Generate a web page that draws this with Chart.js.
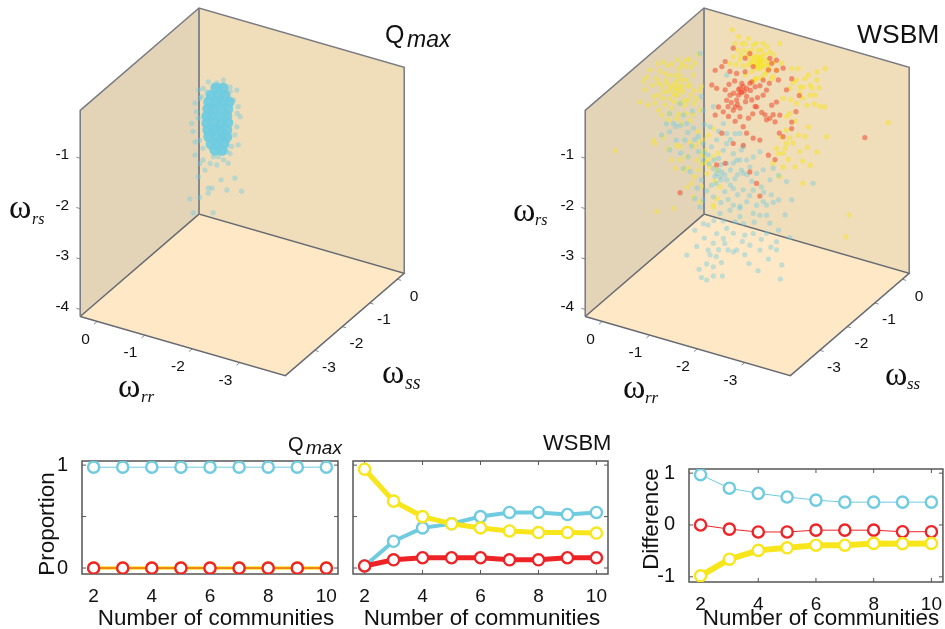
<!DOCTYPE html>
<html>
<head>
<meta charset="utf-8">
<title>Qmax and WSBM communities</title>
<script src="https://cdn.jsdelivr.net/npm/chart.js@4"></script>
<style>
  html, body { margin: 0; padding: 0; background: #fff; }
  canvas { position: absolute; }
</style>
</head>
<body>
<canvas id="cube1" style="left:0;top:0"></canvas>
<canvas id="cube2" style="left:470px;top:0"></canvas>
<canvas id="prop1" style="left:0;top:430px"></canvas>
<canvas id="prop2" style="left:345px;top:430px"></canvas>
<canvas id="diff" style="left:625px;top:430px"></canvas>
<script>
// bottom row
const communities = [2, 3, 4, 5, 6, 7, 8, 9, 10];
const qmaxBlue = [0.98, 0.98, 0.98, 0.98, 0.98, 0.98, 0.98, 0.98, 0.98];
const qmaxYellow = [0, 0, 0, 0, 0, 0, 0, 0, 0];
const qmaxRed = [0, 0, 0, 0, 0, 0, 0, 0, 0];
const wsbmBlue = [0.02, 0.26, 0.39, 0.43, 0.50, 0.54, 0.54, 0.52, 0.54];
const wsbmYellow = [0.96, 0.65, 0.50, 0.43, 0.39, 0.36, 0.345, 0.345, 0.34];
const wsbmRed = [0.02, 0.08, 0.10, 0.10, 0.10, 0.08, 0.08, 0.10, 0.10];
const diffBlue = [0.97, 0.71, 0.61, 0.54, 0.48, 0.44, 0.44, 0.44, 0.44];
const diffRed = [0, -0.08, -0.135, -0.135, -0.1, -0.1, -0.1, -0.13, -0.13];
const diffYellow = [-0.98, -0.66, -0.49, -0.44, -0.39, -0.39, -0.355, -0.36, -0.355];
const xTicks = [2, 4, 6, 8, 10];
const propTicks = [0, 0.5, 1];
const diffTicks = [-1, 0, 1];

// cube axes
const rrTicks = [0, -1, -2, -3];
const ssTicks = [0, -1, -2, -3];
const rsTicks = [-1, -2, -3, -4];
const rrRange = [0.36, -3.96];
const ssRange = [0.25, -4.07];
const rsRange = [-0.05, -4.14];

// clouds are [w_rr, w_rs]; depth can't be read from the picture so each cloud gets one w_ss
const qmaxSs = -0.5;
const qmaxCore = [[-.43,-1.07],[-.58,-1.03],[-.33,-1.24],[-.47,-1.2],[-.62,-1.16],[-.28,-1.39],[-.43,-1.35],[-.58,-1.31],[-.71,-1.27],[-.26,-1.53],[-.39,-1.5],[-.54,-1.46],[-.68,-1.42],[-.24,-1.68],[-.37,-1.64],[-.52,-1.6],[-.66,-1.56],[-.24,-1.82],[-.39,-1.78],[-.54,-1.74],[-.68,-1.69],[-.26,-1.95],[-.39,-1.91],[-.54,-1.88],[-.66,-1.84],[-.28,-2.08],[-.43,-2.04],[-.58,-2],[-.66,-1.98],[-.33,-2.21],[-.45,-2.17],[-.6,-2.13],[-.41,-2.31],[-.56,-2.27]];
const qmaxHalo = [[-.27,-.99],[-.59,-.87],[-.73,-.97],[-.87,-.99],[-.38,-1.03],[-.16,-1.15],[-.8,-1.21],[-.9,-1.31],[-.94,-1.5],[-.87,-1.72],[-.83,-1.89],[-.9,-2.07],[-.76,-2.14],[-.73,-2.29],[-.59,-2.45],[-.69,-2.49],[-.45,-2.59],[-.31,-2.6],[-.16,-2.57],[-.09,-2.66],[.01,-2.52],[-.2,-2.76],[-.06,-2.93],[-.54,-2.86],[-.83,-2.75],[-.27,-3.1],[-.35,-3.08],[-.66,-3.03],[-.97,-2.97],[.12,-3.42],[-.09,-3.33],[-.27,-3.2],[.01,-2.26],[.05,-2.06],[.08,-1.91],[-.06,-1.77],[-.02,-1.65],[.01,-1.49],[-.09,-1.37],[-.07,-1.21],[-.24,-1.2],[.05,-3.68],[-.37,-3.56],[-.48,-2.42],[-.38,-2.45],[-.66,-2.27],[-.16,-2.34],[-.09,-2.2],[-.88,-1.45],[-.13,-1.32],[-.45,-.96],[-.73,-1.06]];

const yellowFrontSs = -1.5;
const yellowFront = [[-.08,-.73],[-.01,-.82],[-.15,-.62],[.06,-.74],[-.22,-.73],[-.11,-.83],[-.04,-.61],[.13,-.66],[.2,-.85],[.31,-.94],[.41,-1],[-.36,-.56],[-.29,-.48],[-.43,-.34],[-.25,-.22],[-.15,-.42],[.06,-.48],[.17,-.47],[-.29,-.08],[-.18,-.18],[-.46,-.1],[-.53,.09],[.48,-.49],[.59,-.91],[.69,-1.18],[.52,-1.2],[.17,-1.1],[.31,-1.24],[.03,-1.12],[-.15,-.98],[-.32,-.87],[-.5,-.79],[-.25,-.99],[-.08,-1.3],[-.18,-1.37],[-.36,-1.26],[.24,-1.32],[.38,-1.92],[.41,-1.86],[1.22,-2.29],[.1,-1.38],[-.6,-.52],[-.57,-1],[-.43,-.64],[-.06,-.69],[-.13,-.73],[.03,-.68],[-.18,-.65],[-.04,-.85],[.1,-.81],[-.09,-.53],[.24,-.75],[-.64,-1.9],[-.6,-1.85],[-.67,-1.77],[-.15,-1.84],[-.08,-1.83],[-.29,-2],[-.22,-2.28],[.03,-2.15],[-.32,-2.22],[-.53,-2.2],[-.71,-2.22],[-.78,-2.06],[-.88,-2.33],[-.5,-2.01],[-.74,-1.94],[-.85,-1.85],[-.39,-2.5],[-.99,-2.41],[-.64,-1.57],[-.85,-1.29],[-.53,-1.44],[-.92,-2.66],[-.85,-2.84],[-.43,-2.76],[.34,-3.26],[-.01,-3.1],[-3.71,-2.23],[-3.64,-2.68],[-.85,-2.81],[-.57,-2.82],
  [.35,-.62],[.28,-.45],[.44,-.78],[.22,-.98],[.08,-.95],[-.03,-.98],[-.3,-.6],[-.38,-.75],[-.24,-.9],[-.12,-.3],[.02,-.25],[.12,-.3],[-.38,-.2],[.3,-.7],[.15,-.6],[-.05,-.45],[-.2,-.5],[.38,-1.12],[.55,-.65],[.62,-.75],[-.45,-.9],[-.12,-1.2],[.08,-1.25],[-.28,-1.15],[-.42,-1.12],[.2,-.25],[.32,-.32],[-.35,-.05],[-.1,-.12],[-.55,-.62],[-.45,-1.75],[-.35,-1.7],[-.55,-1.65],[-.7,-2],[-.62,-2.05],[-.45,-2.35],[-.15,-2.1],[-.05,-2.3],[-.3,-2.6],[-.6,-2.5],[.1,-1.95],[.2,-1.75],[-.95,-1.75],[-.92,-2.1],[-.75,-1.45]];
const yellowBackSs = -0.5;
const yellowBack = [[-1.25,-.36],[-1.18,-.31],[-1.32,-.4],[-1.11,-.4],[-1.39,-.25],[-1.29,-.21],[-1.18,-.48],[-1.08,-.27],[-1.39,-.48],[-1.22,-.1],[-1.01,-.46],[-1.46,-.07],[-.9,-.19],[-1.01,.07],[-.8,.05],[-.73,-.1],[-.67,.15],[-.87,-.07],[-1.11,-.03],[-1.32,.06],[-1.67,.15],[-1.53,-.11],[-1.71,-.23],[-.83,-.4],[-.69,-.38],[-.62,-.53],[-.94,-.67],[-1.18,-.67],[-1.08,-.57],[-1.29,-.64],[-1.53,-.54],[-1.25,-.26],[-1.22,-.4],[-1.27,-.32],[-1.15,-.25],[-1.39,-.35],[-1.08,-.14],[-1.29,-.08],[-.97,-.3],[-1.46,-.4],[-1.1,-.76],[-1.15,-.7],[-2.16,-.58],[-1.92,-.28],[-2.06,-.24],[-2.27,-.31],[-2.62,-.09],[-2.45,-.2],[-2.45,-.36],[-2.31,-.5],[-2.02,-.48],[-1.88,-.68],[-2.09,-.72],[-2.31,-.7],[-2.41,-.67],[-2.52,-.87],[-2.62,-.85],[-2.24,-.92],[-2.02,-.94],[-1.81,-1.26],[-1.88,-1.18],[-1.74,-.92],[-2.27,-1.34],[-1.81,-1.79],[-1.88,-1.67],[-1.78,-1.9],[-1.64,-2.04],[-1.74,-2.01],[-2.09,-1.88],[-2.45,-1.79],[-2.66,-1.43],[-2.06,-1.56],[-3.95,-.8],[-1.74,-2.28],[-1.99,-2.21],[-2.31,-2.09],[-2.16,-2.49],[-1.67,-2.49],[-1.53,-2.26],[-1.81,-1.53],[-1.6,-1.95],
  [-1.2,-.22],[-1.3,-.3],[-1.12,-.32],[-1.05,-.38],[-1.35,-.15],[-1.42,-.32],[-1.25,-.47],[-1,-.2],[-.85,-.3],[-.78,-.22],[-.95,-.05],[-1.18,.02],[-1.4,.02],[-1.55,-.25],[-1.6,-.4],[-1.5,-.6],[-1.35,-.55],[-.75,-.52],[-.9,-.5],[-1.25,-.3],[-1.2,-.38],[-1.28,-.42],[-1.16,-.42],[-2.2,-.4],[-2.35,-.55],[-2.1,-.6],[-1.95,-.55],[-2.5,-.5],[-2.15,-.8],[-2.4,-.85],[-1.9,-.9],[-2,-1.3],[-2.2,-1.55],[-1.95,-1.75],[-1.7,-1.7],[-2.25,-1.75],[-1.85,-2.1],[-2.15,-2.05]];

const blueSs = -2;
const blueCloud = [[-.58,-1.03],[-.72,-1.08],[-.51,-.88],[-.82,-1.22],[-.22,-1.29],[-.36,-1.42],[-.54,-1.37],[-.05,-1.4],[-.61,-1.68],[-.93,-1.33],[-1.1,-1.35],[-1.21,-1.18],[-1.42,-1.2],[-1.35,-1.35],[-1.56,-1.36],[-1.73,-1.24],[-1.63,-1.47],[-1.84,-1.41],[-1.98,-1.31],[-2.12,-1.17],[-1.21,-1.85],[-1.14,-1.77],[-1.28,-1.89],[-1.42,-1.92],[-1.59,-1.85],[-1.73,-1.64],[-1.91,-1.53],[-2.05,-1.62],[-2.19,-1.51],[-2.4,-1.42],[-2.33,-1.67],[-2.51,-1.53],[-2.68,-1.61],[-3.24,-1.49],[-2.79,-1.94],[-2.51,-2.02],[-2.36,-1.96],[-2.15,-1.86],[-1.98,-1.97],[-1.77,-2.02],[-1.56,-2.05],[-1.38,-2.16],[-1.14,-2.33],[-.93,-2.45],[-.75,-2.47],[-1.56,-2.38],[-1.84,-2.24],[-2.05,-2.25],[-2.26,-2.19],[-1.42,-1.59],[-1.25,-1.54],[-1.03,-1.53],[-.93,-1.66],[-.82,-1.52],[-.51,-1.94],[-.65,-1.96],[-.89,-2.06],[-1.1,-2.11],[-.22,-1.65],[-.86,.44],[-1.42,.16],[-.93,-.67],[-1.14,-.54],[-1.35,-.82],[-1.07,-.96],[-.89,-.41],[-.44,-.67],[-.22,-.93],[-1.42,-1],[-1.7,-.92],[-1.77,-1.16],[-1.25,-1.77],[-1.17,-1.92],[-1.32,-1.79],[-1.38,-1.83],[-1.7,-1.45],[-1.56,-1.55],[-1.77,-1.69],[-.89,-4],[-1,-4.02],[-1.14,-3.9],[-1.33,-3.85],[-.84,-3.85],[-2.55,-3.58],[-2.08,-3.54],[-1.89,-3.45],[-2.58,-3.29],[-1.14,-3.72],[-1.31,-3.59],[-1.03,-3.42],[-1.07,-3.5],[-1.63,-3.25],[-1.56,-3.31],[-.58,-3.64],[-.79,-3.41],[-1.35,-3.1],[-1.38,-3.19],[-1.8,-2.91],[-1.91,-3.08],[-2.47,-2.86],[-2.75,-2.7],[-2.26,-2.75],[-1.42,-2.88],[-.93,-2.92],[-1.7,-2.57],[-2.26,-2.39],[-2.65,-2.28],[-1.7,-2.37],[-2.19,-2.14],[-1.98,-2.83],[-2.12,-3.12],[-1.56,-2.94],[-1.77,-2.69],[-1.21,-3.04],[-2.47,-3.02],[-2.33,-2.53],[-1.49,-2.5],[-1.28,-2.62],[-.86,-2.61],[-1.03,-2.92],[-1.14,-3.25],[-2.12,-2.43],[-2.51,-2.62],[-1.98,-2.43],
  [-.6,-1.2],[-.75,-1.3],[-.45,-1.1],[-.35,-1.15],[-.68,-1.45],[-.95,-1.5],[-1.05,-1.7],[-1.15,-1.6],[-1.3,-1.65],[-1.5,-1.7],[-1.65,-1.75],[-1.85,-1.7],[-1.95,-1.8],[-1.3,-1.95],[-1.5,-2],[-1.65,-2.15],[-1.2,-2.05],[-1,-2.25],[-.8,-2.25],[-1.9,-2.1],[-2.2,-1.95],[-2.4,-2.1],[-1.45,-2.3],[-1.3,-2.4],[-1.7,-2.4],[-2,-2.6],[-1.6,-2.7],[-1.35,-2.75],[-1.15,-2.8],[-2.15,-2.9],[-2.35,-3],[-1.75,-3.05],[-1.45,-3.3],[-1.25,-3.35],[-1.8,-3.3],[-.95,-3.2],[-2.3,-3.25],[-1.2,-3.5],[-1,-3.7],[-.75,-3.1],[-1.5,-1.1],[-1.6,-.95],[-1.25,-1],[-.95,-.95],[-.7,-.75],[-.3,-1.1],[-.15,-1.15],[-.45,-1.65]];

const redSs = -0.5;
const redCloud = [[-.83,-.97],[-.87,-1.03],[-.62,-1.16],[-.55,-1.28],[-.73,-1.36],[-.76,-1.22],[-.97,-1.09],[-.9,-.91],[-1.08,-.77],[-1.15,-.85],[-1.32,-.97],[-1.39,-.85],[-1.64,-.58],[-1.6,-.4],[-1.74,-.32],[-1.46,-.2],[-1.5,-.29],[-1.6,-.2],[-1.43,-.44],[-.94,-.34],[-1.04,-.22],[-.69,-.21],[-.52,-.52],[-.45,-.64],[-.31,-.75],[-.62,-.69],[-.76,-.69],[-.94,-.61],[-1.11,-.46],[-.24,-1.06],[-.34,-1.1],[-.52,-1.08],[-.38,-1.46],[-.31,-1.64],[-.48,-1.53],[-.59,-1.59],[-.73,-1.65],[-.83,-1.53],[-1.01,-1.51],[-.9,-1.71],[-.97,-1.82],[-.45,-1.96],[-.69,-2.1],[-.9,-2.08],[-1.11,-1.88],[-1.25,-1.88],[-1.43,-2.13],[-1.57,-2.18],[-1.04,-2.57],[-1.18,-2.76],[-1.25,-2.99],[-.34,-2.62],[-.52,-2.54],[.43,-3.38],[-3.46,-1.23],[-1.46,-1.39],[-1.39,-1.44],[-1.57,-1.43],[-1.67,-1.27],[-1.53,-1.3],[-1.36,-1.35],[-1.92,-1.34],[-1.92,-1.47],[-1.66,-1.63],[-1.74,-1.68],[-2.01,-1.11],[-2.08,-.77],[-1.81,-.73],[-1.92,-.48],[-1.18,-1.24],[-1.29,-1.32],[-1.5,-1.12],[-1.6,-1.03],[-1.32,-.67],[-1.08,-1.13],[-1.15,-1.24],[-.83,-1.36],[-.69,-1.44],[-.8,-1.11],[-.87,-.86],[-.97,-.93],[-1.04,-.81],
  [-.85,-1.05],[-.8,-1],[-.92,-1],[-.7,-1.1],[-.78,-1.3],[-.65,-1.3],[-.58,-1.4],[-.95,-1.2],[-1.05,-.95],[-1.2,-1.05],[-1.25,-.8],[-.72,-.85],[-.6,-.95],[-1.45,-.7],[-1.1,-1.4]];

const BLUE = '#6fcbdf', YELLOW = '#f8e61c', RED = '#ee2326';
const SANS = '"Liberation Sans", Arial, sans-serif';
const SERIF = '"Liberation Serif", "Times New Roman", serif';

// oblique view of the cube: u, v are the chart's x and y values
function project(rr, ss, rs) {
  return {
    x: (rrRange[0] - rr) + 0.579 * (ss - ssRange[0]),
    y: rs - 0.272 * (rrRange[0] - rr) - 0.47 * (ssRange[0] - ss)
  };
}

function textPlugin(getItems) {
  return {
    id: 'pageText',
    afterDraw(chart) {
      const ctx = chart.ctx;
      const ox = chart.canvas.offsetLeft, oy = chart.canvas.offsetTop;
      getItems(chart).forEach(t => {
        ctx.save();
        ctx.fillStyle = '#111';
        ctx.font = t.font;
        ctx.textAlign = t.align || 'left';
        ctx.textBaseline = t.base || 'alphabetic';
        ctx.translate(t.x - ox, t.y - oy);
        if (t.rot) ctx.rotate(t.rot);
        ctx.fillText(t.text, 0, 0);
        ctx.restore();
      });
    }
  };
}

function polygon(corners, color, order) {
  return { data: corners.map(c => project(c[0], c[1], c[2])), showLine: true, fill: 'shape',
    backgroundColor: color, borderWidth: 0, pointRadius: 0, order: order };
}
function polyline(corners, color, width, order) {
  return { data: corners.map(c => project(c[0], c[1], c[2])), showLine: true, fill: false,
    borderColor: color, borderWidth: width, pointRadius: 0, order: order };
}
function cloud(points, ss, color, radius, order) {
  return { data: points.map(p => project(p[0], ss, p[1])), showLine: false,
    backgroundColor: color, pointBorderWidth: 0, borderWidth: 0, pointRadius: radius, order: order };
}

function cubeChart(id, left, width, apexX, clouds, labels) {
  const canvas = document.getElementById(id);
  const height = 420;
  canvas.width = width;
  canvas.height = height;
  const [r0, r1] = rrRange, [s0, s1] = ssRange, [z0, z1] = rsRange;
  const frame = [
    polygon([[r0, s1, z0], [r0, s0, z0], [r0, s0, z1], [r0, s1, z1], [r0, s1, z0]], '#e3d4b8', 30),
    polygon([[r0, s0, z0], [r1, s0, z0], [r1, s0, z1], [r0, s0, z1], [r0, s0, z0]], '#f0ddba', 30),
    polygon([[r0, s1, z1], [r0, s0, z1], [r1, s0, z1], [r1, s1, z1], [r0, s1, z1]], '#fee8c6', 30),
    polyline([[r0, s1, z1], [r0, s1, z0], [r0, s0, z0], [r1, s0, z0], [r1, s0, z1]], '#777a80', 1.5, 20),
    polyline([[r0, s0, z0], [r0, s0, z1]], '#85888d', 2, 20),
    polyline([[r0, s1, z1], [r0, s0, z1], [r1, s0, z1], [r1, s1, z1], [r0, s1, z1]], '#666a72', 1.5, 20)
  ];
  rrTicks.forEach(t => frame.push(polyline([[t, s1, z1], [t, s1 - 0.12, z1]], '#888', 1, 20)));
  ssTicks.forEach(t => frame.push(polyline([[r1, t, z1], [r1 - 0.08, t, z1]], '#888', 1, 20)));
  rsTicks.forEach(t => frame.push(polyline([[r0, s1, t], [r0 + 0.08, s1, t]], '#888', 1, 20)));

  const tickFont = '15.5px ' + SANS;
  const items = chart => {
    const xs = chart.scales.x, ys = chart.scales.y;
    const at = (rr, ss, rs) => {
      const p = project(rr, ss, rs);
      return { x: xs.getPixelForValue(p.x) + left, y: ys.getPixelForValue(p.y) };
    };
    const out = labels.slice();
    rrTicks.forEach(t => {
      const p = at(t, s1, z1);
      out.push({ text: String(t), x: p.x - 7.5, y: p.y + 18, font: tickFont, align: 'right', base: 'middle' });
    });
    ssTicks.forEach(t => {
      const p = at(r1, t, z1);
      out.push({ text: String(t), x: p.x + 21, y: p.y + 17, font: tickFont, align: 'right', base: 'middle' });
    });
    rsTicks.forEach(t => {
      const p = at(r0, s1, t);
      out.push({ text: String(t), x: p.x - 11, y: p.y - 3, font: tickFont, align: 'right', base: 'middle' });
    });
    return out;
  };

  new Chart(canvas, {
    type: 'scatter',
    data: { datasets: frame.concat(clouds) },
    options: {
      responsive: false,
      animation: false,
      events: [],
      plugins: { legend: { display: false }, tooltip: { enabled: false } },
      layout: { padding: 0, autoPadding: false },
      scales: {
        x: { type: 'linear', display: false, min: (left - apexX) / 47.5, max: (left + width - apexX) / 47.5 },
        y: { type: 'linear', display: false, min: rsRange[0] + 8 / 50.4 - height / 50.4, max: rsRange[0] + 8 / 50.4 }
      }
    },
    plugins: [textPlugin(items)]
  });
}

function omega(x, y, sub, subX, subY, subSize) {
  return [
    { text: '\u03c9', x: x, y: y, font: '34px ' + SERIF },
    { text: sub, x: subX, y: subY, font: 'italic ' + subSize + 'px ' + SERIF }
  ];
}

cubeChart('cube1', 0, 470, 199, [
  cloud(qmaxHalo, qmaxSs, 'rgba(111,203,223,0.42)', 2.6, 2),
  cloud(qmaxCore, qmaxSs, 'rgba(111,203,223,0.95)', 5.5, 1)
], [
  { text: 'Q', x: 385, y: 43, font: '25px ' + SANS },
  { text: 'max', x: 407, y: 47, font: 'italic 23px ' + SANS },
  ...omega(9, 218, 'rs', 32, 224, 16),
  ...omega(118, 397, 'rr', 141, 402, 17),
  ...omega(382, 383, 'ss', 405, 389, 20)
]);

cubeChart('cube2', 470, 475, 704, [
  cloud(yellowFront, yellowFrontSs, 'rgba(248,230,28,0.42)', 2.6, 4),
  cloud(yellowBack, yellowBackSs, 'rgba(248,230,28,0.5)', 2.6, 4),
  cloud(blueCloud, blueSs, 'rgba(111,203,223,0.42)', 2.6, 3),
  cloud(redCloud, redSs, 'rgba(238,72,45,0.55)', 2.6, 2)
], [
  { text: 'WSBM', x: 857, y: 43, font: '26.5px ' + SANS },
  ...omega(513, 221, 'rs', 535, 225, 16),
  ...omega(623, 398, 'rr', 645, 403, 17),
  ...omega(885, 385, 'ss', 907, 389, 17)
]);

// box and inward ticks for the lower panels
const boxPlugin = {
  id: 'box',
  beforeDatasetsDraw(chart) {
    const ctx = chart.ctx, a = chart.chartArea;
    ctx.save();
    ctx.strokeStyle = '#555';
    ctx.lineWidth = 1.5;
    ctx.strokeRect(a.left, a.top, a.right - a.left, a.bottom - a.top);
    ctx.lineWidth = 1;
    ctx.beginPath();
    chart.scales.x.ticks.forEach(t => {
      const x = chart.scales.x.getPixelForValue(t.value);
      ctx.moveTo(x, a.top); ctx.lineTo(x, a.top + 4);
      ctx.moveTo(x, a.bottom); ctx.lineTo(x, a.bottom - 4);
    });
    chart.scales.y.ticks.forEach(t => {
      const y = chart.scales.y.getPixelForValue(t.value);
      ctx.moveTo(a.left, y); ctx.lineTo(a.left + 4, y);
      ctx.moveTo(a.right, y); ctx.lineTo(a.right - 4, y);
    });
    ctx.stroke();
    ctx.restore();
  }
};

function series(values, color, width, order) {
  return {
    data: communities.map((c, i) => ({ x: c, y: values[i] })),
    borderColor: color, borderWidth: width, showLine: true, tension: 0,
    pointRadius: 5.6, pointBorderWidth: 2.4, pointBackgroundColor: '#fff', pointBorderColor: color,
    order: order
  };
}

function panel(id, size, area, yRange, yTicks, showY, datasets, labels) {
  const canvas = document.getElementById(id);
  canvas.width = size[0];
  canvas.height = size[1];
  new Chart(canvas, {
    type: 'scatter',
    data: { datasets: datasets },
    options: {
      responsive: false,
      animation: false,
      events: [],
      plugins: { legend: { display: false }, tooltip: { enabled: false } },
      layout: { autoPadding: false, padding: { top: area.top, right: area.right, left: 0, bottom: 0 } },
      scales: {
        x: {
          type: 'linear', min: 1.6, max: 10.4,
          grid: { display: false }, border: { display: false },
          afterBuildTicks: s => { s.ticks = xTicks.map(v => ({ value: v })); },
          afterFit: s => { s.height = area.bottom; },
          ticks: { color: '#111', padding: 3, maxRotation: 0, autoSkip: false, font: { family: SANS, size: 19 }, callback: v => String(v) }
        },
        y: {
          type: 'linear', min: yRange[0], max: yRange[1],
          grid: { display: false }, border: { display: false },
          afterBuildTicks: s => { s.ticks = yTicks.map(v => ({ value: v })); },
          afterFit: s => { s.width = area.left; },
          ticks: { color: '#111', padding: 6, autoSkip: false, font: { family: SANS, size: 20 },
            callback: v => (showY && Number.isInteger(v)) ? String(v) : '' }
        }
      }
    },
    plugins: [boxPlugin, textPlugin(() => labels)]
  });
}

const axisFont = '22.4px ' + SANS;

panel('prop1', [345, 199], { left: 82, right: 7, top: 31, bottom: 55 }, [-0.058, 1.04], propTicks, true, [
  series(qmaxBlue, BLUE, 1, 3),
  series(qmaxYellow, YELLOW, 3.5, 2),
  series(qmaxRed, RED, 1, 1)
], [
  { text: 'Q', x: 288, y: 451, font: '20px ' + SANS },
  { text: 'max', x: 306, y: 454, font: 'italic 19px ' + SANS },
  { text: 'Proportion', x: 54, y: 524, font: axisFont, align: 'center', rot: -Math.PI / 2 },
  { text: 'Number of communities', x: 216, y: 625, font: axisFont, align: 'center' }
]);

panel('prop2', [280, 199], { left: 8, right: 17, top: 31, bottom: 55 }, [-0.058, 1.04], propTicks, false, [
  series(wsbmBlue, BLUE, 4, 3),
  series(wsbmYellow, YELLOW, 5, 2),
  series(wsbmRed, RED, 5, 1)
], [
  { text: 'WSBM', x: 543, y: 450, font: '22px ' + SANS },
  { text: 'Number of communities', x: 482, y: 625, font: axisFont, align: 'center' }
]);

panel('diff', [320, 199], { left: 64, right: 1, top: 39, bottom: 47 }, [-1.1, 1.08], diffTicks, true, [
  series(diffBlue, BLUE, 1, 3),
  series(diffRed, RED, 1, 2),
  series(diffYellow, YELLOW, 6, 1)
], [
  { text: 'Difference', x: 658, y: 519, font: axisFont, align: 'center', rot: -Math.PI / 2 },
  { text: 'Number of communities', x: 821, y: 625, font: axisFont, align: 'center' }
]);
</script>
</body>
</html>
